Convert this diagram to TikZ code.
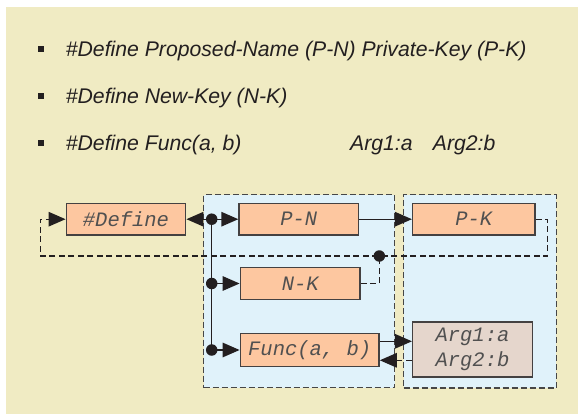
\documentclass[tikz,border=0pt]{standalone}
\usepackage{fontspec}
\setmainfont{Liberation Sans}
\newfontfamily\codefont{Liberation Mono}
\usetikzlibrary{arrows.meta}
\definecolor{bgbeige}{RGB}{240,235,195}
\definecolor{panelblue}{RGB}{224,242,250}
\definecolor{boxorange}{RGB}{253,199,160}
\definecolor{boxgray}{RGB}{229,214,204}
\definecolor{inkdark}{RGB}{35,31,32}
\definecolor{codegray}{RGB}{80,80,80}
\definecolor{panelline}{RGB}{70,70,70}
\tikzset{
  bullettext/.style={inner sep=0pt, anchor=base west, text=inkdark,
    font=\fontsize{21.2}{24}\selectfont\itshape},
  bulletsq/.style={fill=inkdark, inner sep=0pt, minimum size=6.5pt},
  codebox/.style={draw=inkdark!85, line width=1.5pt, fill=boxorange, inner sep=0pt,
    text=codegray, font=\codefont\fontsize{20.5}{24.3}\selectfont\itshape},
  argbox/.style={codebox, fill=boxgray, align=center},
  panel/.style={draw=panelline, fill=panelblue, line width=1.4pt,
    dash pattern=on 6pt off 3pt, inner sep=0pt},
  solidline/.style={draw=inkdark, line width=1.4pt},
  tipc/.style={-{Triangle[length=17pt,width=14.5pt]}},
  dashline/.style={draw=inkdark, line width=1.4pt, dash pattern=on 6pt off 3.5pt},
  dotn/.style={circle, fill=inkdark, inner sep=0pt, minimum size=11.5pt},
}
\begin{document}
\begin{tikzpicture}[x=1pt,y=-1pt]
\useasboundingbox (0,0) rectangle (578,414);
\fill[bgbeige] (6,7) rectangle (578,414);

% bullet list
\node[bulletsq] (b1) at (41,49) {};
\node[bulletsq] (b2) at (41,96) {};
\node[bulletsq] (b3) at (41,143) {};
\node[bullettext] (t1) at (65.7,56.5) {\#Define Proposed-Name (P-N) Private-Key (P-K)};
\node[bullettext] (t2) at (65.7,103.5) {\#Define New-Key (N-K)};
\node[bullettext] (t3) at (65.7,150.5) {\#Define Func(a, b)};
\node[bullettext] (t4) at (350,150.5) {Arg1:a};
\node[bullettext] (t5) at (432.7,150.5) {Arg2:b};

% panels
\node[panel, minimum width=191pt, minimum height=193pt] (LP) at (299.2,291.2) {};
\node[panel, minimum width=152.6pt, minimum height=193.3pt] (RP) at (480,291.35) {};

% boxes
\node[codebox, minimum width=119.4pt, minimum height=31.7pt] (def) at (126,219.2) {\#Define};
\node[codebox, minimum width=119.3pt, minimum height=31.7pt] (PN) at (298.7,219.2) {P-N};
\node[codebox, minimum width=122.3pt, minimum height=31.7pt] (PK) at (473.8,219.2) {P-K};
\node[codebox, minimum width=119.7pt, minimum height=31.6pt] (NK) at (300.2,283.5) {N-K};
\node[codebox, minimum width=138.7pt, minimum height=33.4pt] (Fn) at (309.7,350) {Func(a, b)};
\node[argbox, minimum width=119.6pt, minimum height=55pt] (Arg) at (472.5,349.5) {Arg1:a\\Arg2:b};

% feedback loop
\coordinate (fb1) at (547.7,219.2);
\coordinate (fb2) at (547.7,256);
\coordinate (fb3) at (40.3,256);
\coordinate (fb4) at (40.3,219.2);
\draw[dashline, tipc] (PK.east) -- (fb1) -- (fb2) -- (fb3) -- (fb4) -- (def.west);

% dots on bus
\node[dotn] (d1) at (211.7,219.2) {};
\node[dotn] (d2) at (211.7,283.5) {};
\node[dotn] (d3) at (211.7,350) {};
\node[dotn] (d4) at (379.3,256) {};

\draw[solidline] (d1.center) -- (d3.center);
\draw[solidline, tipc] (d1.center) -- (def.east);
\draw[solidline, tipc] (d1.center) -- (PN.west);
\draw[solidline, tipc] (d2.center) -- (NK.west);
\draw[solidline, tipc] (d3.center) -- (Fn.west);
\draw[solidline, tipc] (PN.east) -- (PK.west);
\draw[dashline] (NK.east) -| (d4.center);

\coordinate (fa) at ([yshift=8.7pt]Fn.east);
\coordinate (af) at ([yshift=-10.3pt]Fn.east);
\draw[solidline, tipc] (fa) -- (fa -| Arg.west);
\draw[dashline, tipc] (af -| Arg.west) -- (af);
\end{tikzpicture}
\end{document}
